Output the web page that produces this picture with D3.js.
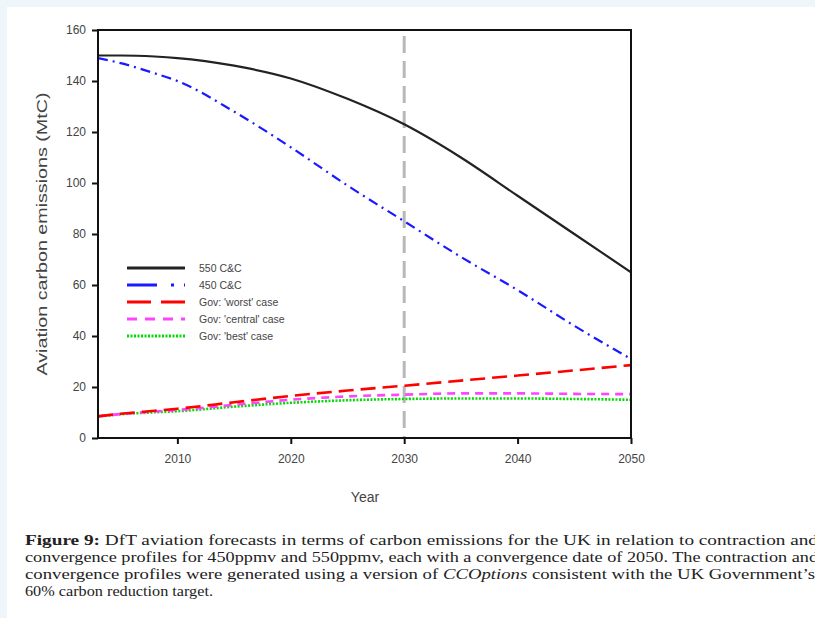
<!DOCTYPE html>
<html><head><meta charset="utf-8">
<script src="https://cdn.jsdelivr.net/npm/d3@7/dist/d3.min.js"></script>
<style>
html,body{margin:0;padding:0;background:#eef6f9;}
svg{display:block;}
.cap{font-family:'Liberation Serif','Times New Roman',serif;}
.sans{font-family:'Liberation Sans',Arial,sans-serif;}
</style></head>
<body>
<svg id="chart" width="815" height="618"></svg>
<script>
const years = [2003, 2005, 2008, 2010, 2015, 2020, 2025, 2030, 2035, 2040, 2045, 2050];
const cc550 = [150, 150, 149.6, 149, 146, 141, 133, 123, 110, 95, 80, 65];
const cc450 = [149, 147, 143, 140, 128, 114, 99, 85, 71, 58, 44, 31];
const govWorst = [8.5, 9.5, 10.7, 11.5, 14, 16.5, 18.6, 20.5, 22.5, 24.5, 26.5, 28.6];
const govCentral = [8.5, 9.4, 10.4, 11, 13, 15, 16.3, 17, 17.5, 17.5, 17.3, 17.2];
const govBest = [8.5, 9.3, 10.1, 10.5, 12.3, 13.8, 14.8, 15.3, 15.5, 15.5, 15.3, 15];
const xTicks = [2010, 2020, 2030, 2040, 2050];
const yTicks = [0, 20, 40, 60, 80, 100, 120, 140, 160];
const seriesNames = ["550 C&C", "450 C&C", "Gov: 'worst' case", "Gov: 'central' case", "Gov: 'best' case"];
const markerYear = 2030;
const captionLines = [
  [{t:"Figure 9:", b:true}, {t:" DfT aviation forecasts in terms of carbon emissions for the UK in relation to contraction and"}],
  [{t:"convergence profiles for 450ppmv and 550ppmv, each with a convergence date of 2050. The contraction and"}],
  [{t:"convergence profiles were generated using a version of "}, {t:"CCOptions", i:true}, {t:" consistent with the UK Government\u2019s"}],
  [{t:"60% carbon reduction target."}]
];

const svg = d3.select("#chart");
svg.append("rect").attr("x",7).attr("y",7).attr("width",808).attr("height",611).attr("fill","#ffffff");

const L = 98, R = 631, T = 30, B = 438;
const x = d3.scaleLinear().domain([2003, 2050]).range([L, R]);
const y = d3.scaleLinear().domain([0, 160]).range([B, T]);

const styles = [
  {color:"#222222", dash:null, w:2.2, ldash:null},
  {color:"#1a1aff", dash:"10,5,2,5", w:2.2, ldash:"30,14,3,10"},
  {color:"#ff0000", dash:"15,7", w:2.6, ldash:"24,10"},
  {color:"#ff44ff", dash:"8,6", w:2.6, ldash:"10,8"},
  {color:"#00dd00", dash:"2,1.5", w:2.6, ldash:"2,1.5"}
];
const data = [cc550, cc450, govWorst, govCentral, govBest];

// vertical marker
svg.append("line").attr("x1",x(markerYear)).attr("x2",x(markerYear))
  .attr("y1",y(160)+6).attr("y2",y(0))
  .attr("stroke","#b8b8b8").attr("stroke-width",3).attr("stroke-dasharray","17,8");

const line = d3.line().curve(d3.curveMonotoneX);
svg.append("clipPath").attr("id","pc").append("rect")
  .attr("x",L).attr("y",T).attr("width",R-L).attr("height",B-T);

data.slice().reverse().forEach((vals, ri) => {
  const i = data.length-1-ri;
  const s = styles[i];
  svg.append("path").attr("clip-path","url(#pc)")
    .attr("d", line(years.map((yr,k)=>[x(yr), y(vals[k])])))
    .attr("fill","none").attr("stroke",s.color).attr("stroke-width",s.w)
    .attr("stroke-dasharray",s.dash);
});

// axes
const xAxis = d3.axisBottom(x).tickValues(xTicks).tickSize(6).tickPadding(10).tickFormat(d3.format("d"));
const yAxis = d3.axisLeft(y).tickValues(yTicks).tickSize(6).tickPadding(6);
const gx = svg.append("g").attr("transform",`translate(0,${B})`).call(xAxis);
const gy = svg.append("g").attr("transform",`translate(${L},0)`).call(yAxis);
[gx, gy].forEach(g=>{
  g.attr("font-family",null).attr("font-size",null);
  g.select(".domain").remove();
  g.selectAll(".tick line").attr("stroke","#111").attr("stroke-width",2);
  g.selectAll("text").attr("class","sans").attr("font-size",12).attr("fill","#444");
});
// frame
svg.append("rect").attr("x",L).attr("y",T).attr("width",R-L).attr("height",B-T)
  .attr("fill","none").attr("stroke","#111").attr("stroke-width",2);

// axis titles
svg.append("text").attr("class","sans").attr("x",365).attr("y",502).attr("text-anchor","middle")
  .attr("font-size",14).attr("fill","#444").text("Year");
svg.append("text").attr("class","sans").attr("transform","translate(47,234) rotate(-90)").attr("text-anchor","middle")
  .attr("font-size",14).attr("fill","#444")
  .attr("textLength",283).attr("lengthAdjust","spacingAndGlyphs")
  .text("Aviation carbon emissions (MtC)");

// legend
const lg = svg.append("g");
seriesNames.forEach((nm,i)=>{
  const yy = 268 + i*17;
  const s = styles[i];
  lg.append("line").attr("x1",127).attr("x2",185).attr("y1",yy).attr("y2",yy)
    .attr("stroke",s.color).attr("stroke-width",s.w+0.6).attr("stroke-dasharray", s.ldash);
  lg.append("text").attr("class","sans").attr("x",199).attr("y",yy+4)
    .attr("font-size",10.5).attr("fill","#444").text(nm);
});

// caption
const capX = 25, capY0 = 545, capDy = 17;
const lens = [793, 793, 790, 188];
captionLines.forEach((parts, li)=>{
  const t = svg.append("text").attr("class","cap").attr("x",capX).attr("y",capY0+li*capDy)
    .attr("font-size",15).attr("fill","#222")
    .attr("textLength",lens[li]).attr("lengthAdjust","spacingAndGlyphs");
  parts.forEach(p=>{
    const ts = t.append("tspan").text(p.t);
    if (p.b) ts.attr("font-weight","bold");
    if (p.i) ts.attr("font-style","italic");
  });
});
</script>
</body></html>
